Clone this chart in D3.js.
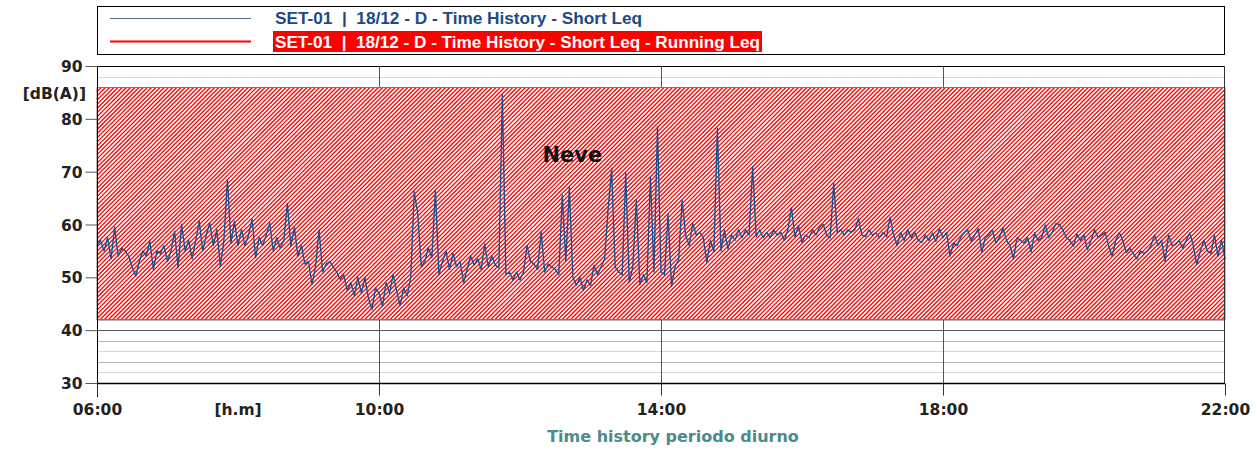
<!DOCTYPE html>
<html lang="it">
<head>
<meta charset="UTF-8">
<title>Time history periodo diurno</title>
<script src="https://cdn.jsdelivr.net/npm/d3@7"></script>
<style>
  body { margin: 0; background: #fff; }
  svg { display: block; }
  .tick-lbl { font-family: 'DejaVu Sans', Verdana, sans-serif; font-weight: bold; font-size: 15.5px; fill: #222; }
  .leg { font-family: 'Liberation Sans Narrow', 'Arial Narrow', 'Liberation Sans', sans-serif; font-weight: bold; font-size: 16px; white-space: pre; }
</style>
</head>
<body>
<div id="chart"></div>
<script>
var W = 1257, H = 452;

// time axis (hours) and y axis
var xTickHours = [6, 10, 14, 18, 22];
var xTickLabels = ["06:00", "10:00", "14:00", "18:00", "22:00"];
var yTicks = [30, 40, 50, 60, 70, 80, 90];

// short Leq, one value every 3 minutes from 06:00 to 22:00
var startHour = 6, stepMin = 3;
var leq = [
  56, 57, 55, 57.5, 53.5, 59.5, 54, 55.5, 55, 54,
  52, 50.2, 53, 55, 54, 56.8, 51.5, 55, 54.5, 56,
  53, 55, 58.7, 51.8, 60, 55, 57, 53.5, 57, 60.6,
  55, 58, 60.3, 56, 59, 52, 57, 68.5, 56.5, 60.6,
  56, 59, 56, 58, 61, 53.7, 57.5, 56, 58, 60.3,
  55, 57.5, 55.5, 57, 64, 56, 59.4, 54, 56, 52.5,
  53, 48.6, 52, 59, 51, 52.5, 53, 52, 51, 49.6,
  50.5, 47.5, 49, 46.5, 50, 47, 50, 46, 43.9, 48,
  47, 44.5, 49, 47, 50.5, 47.5, 44.6, 48, 46.5, 50,
  66.2, 62, 52, 53, 55.6, 53.7, 66.5, 50.5, 53, 55,
  51.5, 54.5, 52, 53, 49, 51.5, 54, 52.3, 53.5, 51.5,
  56.3, 52, 54, 52.3, 51.8, 84.6, 50.5, 51, 49.5, 51,
  49.5, 51, 56, 53, 52.5, 51.5, 58.6, 51, 52.5, 52,
  51.5, 50.5, 65.6, 53, 67, 50, 48.5, 50, 47.5, 49.5,
  48.5, 52.3, 50.5, 52, 53.4, 63, 70.5, 52, 51, 50.5,
  69.7, 49, 52, 64.7, 48.6, 50.5, 49, 69, 51, 78.5,
  51, 50.5, 62, 48.3, 52, 53.3, 64.6, 58, 56, 60.2,
  58, 58.5, 57.5, 52.8, 57, 54.8, 78.2, 55, 58.9, 55.4,
  58, 57, 59, 57.5, 59, 58, 71, 57.7, 59, 57.5,
  58.5, 57.5, 59, 58, 58.5, 57, 59, 63.2, 57.7, 59.8,
  56.6, 58, 57.5, 59, 58, 59.5, 60, 58, 57.5, 67.8,
  58.5, 59, 58, 59, 58.5, 59, 61.1, 58, 57.7, 59,
  58, 58.4, 57.5, 58.5, 57.7, 61.4, 58, 56, 58.5, 57,
  59, 57.5, 58.5, 57, 56.6, 58, 57, 58.4, 56.8, 59.2,
  57.5, 58.5, 54, 56.5, 56, 57.5, 58.4, 59, 56.8, 58,
  59.2, 54.8, 57.5, 58, 59, 56.5, 57.5, 59.3, 57, 56,
  53.5, 57.5, 57, 56.5, 57.5, 54.8, 58.4, 57, 57.5, 59.9,
  57.5, 58.5, 60.2, 60, 59, 57.5, 57, 55.9, 58.2, 57,
  58, 55.2, 57, 59, 57.5, 58, 58.5, 56, 54, 57,
  58.5, 57, 54.7, 55.5, 54.5, 53.5, 55, 54.5, 55, 56,
  58, 56, 57, 53, 58, 56, 56.2, 57, 55.5, 57,
  58.4, 56, 52.4, 55, 57, 55, 54.5, 58, 54, 57,
  53.5
];

// masked band ("Neve") in dB
var maskRange = [42.1, 86.0];
var maskLabel = "Neve";

var legendLabels = [
  "SET-01  |  18/12 - D - Time History - Short Leq",
  "SET-01  |  18/12 - D - Time History - Short Leq - Running Leq"
];

var m = { left: 97, right: 32, top: 66, bottom: 69 };

var svg = d3.select("#chart").append("svg")
  .attr("width", W).attr("height", H);

var x = d3.scaleLinear().domain([6, 22]).range([m.left, W - m.right]);
var y = d3.scaleLinear().domain([30, 90]).range([H - m.bottom, m.top]);

// minor horizontal grid every 2 dB
var minor = d3.range(32, 90, 2).filter(function(v){ return v % 10 !== 0; });
svg.append("g").selectAll("line").data(minor).enter().append("line")
  .attr("x1", x(6)).attr("x2", x(22))
  .attr("y1", function(d){ return Math.round(y(d)) + 0.5; })
  .attr("y2", function(d){ return Math.round(y(d)) + 0.5; })
  .attr("stroke", function(d){ return d % 4 === 0 ? "#d8d8d8" : "#b4b4b4"; })
  .attr("stroke-width", 1);

// major horizontal grid
svg.append("g").selectAll("line").data([40, 50, 60, 70, 80]).enter().append("line")
  .attr("x1", x(6)).attr("x2", x(22))
  .attr("y1", function(d){ return Math.round(y(d)) + 0.5; })
  .attr("y2", function(d){ return Math.round(y(d)) + 0.5; })
  .attr("stroke", "#555").attr("stroke-width", 1);

// vertical grid
svg.append("g").selectAll("line").data(xTickHours.slice(1, -1)).enter().append("line")
  .attr("x1", function(d){ return Math.round(x(d)) + 0.5; })
  .attr("x2", function(d){ return Math.round(x(d)) + 0.5; })
  .attr("y1", y(90)).attr("y2", y(30))
  .attr("stroke", "#555").attr("stroke-width", 1);

// hatched band: white box, red diagonal strokes clipped to it
var bx0 = x(6), bx1 = x(22);
var by0 = Math.round(y(maskRange[1])) + 0.5, by1 = Math.round(y(maskRange[0])) + 0.5;
svg.append("clipPath").attr("id", "bandClip")
  .append("rect").attr("x", bx0).attr("y", by0)
  .attr("width", bx1 - bx0).attr("height", by1 - by0);
svg.append("rect")
  .attr("x", bx0).attr("y", by0).attr("width", bx1 - bx0).attr("height", by1 - by0)
  .attr("fill", "#fff");
var gap = 4.2, bh = by1 - by0;
var starts = d3.range(bx0 - bh, bx1 + gap, gap);
svg.append("g").attr("clip-path", "url(#bandClip)")
  .selectAll("line").data(starts).enter().append("line")
  .attr("x1", function(d){ return d; }).attr("y1", by1)
  .attr("x2", function(d){ return d + bh; }).attr("y2", by0)
  .attr("stroke", "#ff0000").attr("stroke-width", 1.3);
svg.append("rect")
  .attr("x", bx0).attr("y", by0).attr("width", bx1 - bx0).attr("height", by1 - by0)
  .attr("fill", "none").attr("stroke", "#777").attr("stroke-width", 1);

svg.append("text")
  .attr("x", x(12.32)).attr("y", y(71.8))
  .attr("font-family", "'DejaVu Sans', Verdana, sans-serif")
  .attr("font-weight", "bold").attr("font-size", 21)
  .attr("fill", "#111")
  .text(maskLabel);

// short Leq trace
var line = d3.line()
  .x(function(d, i){ return x(startHour + i * stepMin / 60); })
  .y(function(d){ return y(d); });
svg.append("path")
  .datum(leq)
  .attr("d", line)
  .attr("fill", "none")
  .attr("stroke", "#1d4f8e")
  .attr("stroke-width", 1.4)
  .attr("stroke-linejoin", "round");

// frame
svg.append("line").attr("x1", x(6)).attr("x2", x(22))
  .attr("y1", y(90) + 0.5).attr("y2", y(90) + 0.5).attr("stroke", "#000");
svg.append("line").attr("x1", x(6)).attr("x2", x(22))
  .attr("y1", y(30) + 0.5).attr("y2", y(30) + 0.5).attr("stroke", "#000").attr("stroke-width", 1.5);
svg.append("line").attr("x1", x(22) - 0.5).attr("x2", x(22) - 0.5)
  .attr("y1", y(90)).attr("y2", y(30)).attr("stroke", "#333");

// y axis
var yAxis = d3.axisLeft(y).tickValues(yTicks).tickSize(12).tickPadding(3);
var gy = svg.append("g").attr("transform", "translate(" + (x(6) + 0.5) + ",0)").call(yAxis);
gy.select(".domain").attr("stroke", "#000").attr("d", "M0," + y(90) + "V" + (y(30) + 14));
gy.selectAll(".tick line").attr("stroke", "#555");
gy.selectAll("text").attr("class", "tick-lbl").attr("dy", "0.36em");

svg.append("text").attr("class", "tick-lbl")
  .attr("x", 86).attr("y", 99).attr("text-anchor", "end")
  .text("[dB(A)]");

// x axis
var xAxis = d3.axisBottom(x).tickValues(xTickHours).tickSize(12).tickPadding(8)
  .tickFormat(function(d, i){ return xTickLabels[i]; });
var gx = svg.append("g").attr("transform", "translate(0," + (y(30) + 0.5) + ")").call(xAxis);
gx.select(".domain").remove();
gx.selectAll(".tick line").attr("stroke", "#333");
gx.selectAll("text").attr("class", "tick-lbl");

svg.append("text").attr("class", "tick-lbl")
  .attr("x", x(8.0)).attr("y", 415).attr("text-anchor", "middle")
  .text("[h.m]");

svg.append("text")
  .attr("x", 673).attr("y", 442).attr("text-anchor", "middle")
  .attr("font-family", "'DejaVu Sans', Verdana, sans-serif")
  .attr("font-weight", "bold").attr("font-size", 16)
  .attr("fill", "#4b8b8b")
  .text("Time history periodo diurno");

// legend
var lg = svg.append("g");
lg.append("rect").attr("x", x(6) + 0.5).attr("y", 6.5)
  .attr("width", x(22) - x(6) - 1).attr("height", 48)
  .attr("fill", "#fff").attr("stroke", "#000");
lg.append("line").attr("x1", 110).attr("x2", 251).attr("y1", 18.5).attr("y2", 18.5)
  .attr("stroke", "#4a6f9c").attr("stroke-width", 1.2);
lg.append("line").attr("x1", 110).attr("x2", 251).attr("y1", 41.5).attr("y2", 41.5)
  .attr("stroke", "#ff0000").attr("stroke-width", 2);
lg.append("rect").attr("x", 273).attr("y", 31).attr("width", 489).attr("height", 21)
  .attr("fill", "#ff0000");
lg.append("text").attr("class", "leg").attr("x", 275).attr("y", 23.5)
  .attr("fill", "#1b4a86")
  .attr("textLength", 367).attr("lengthAdjust", "spacingAndGlyphs")
  .text(legendLabels[0]);
lg.append("text").attr("class", "leg").attr("x", 275).attr("y", 47.5)
  .attr("fill", "#fff")
  .attr("textLength", 485).attr("lengthAdjust", "spacingAndGlyphs")
  .text(legendLabels[1]);
</script>
</body>
</html>
